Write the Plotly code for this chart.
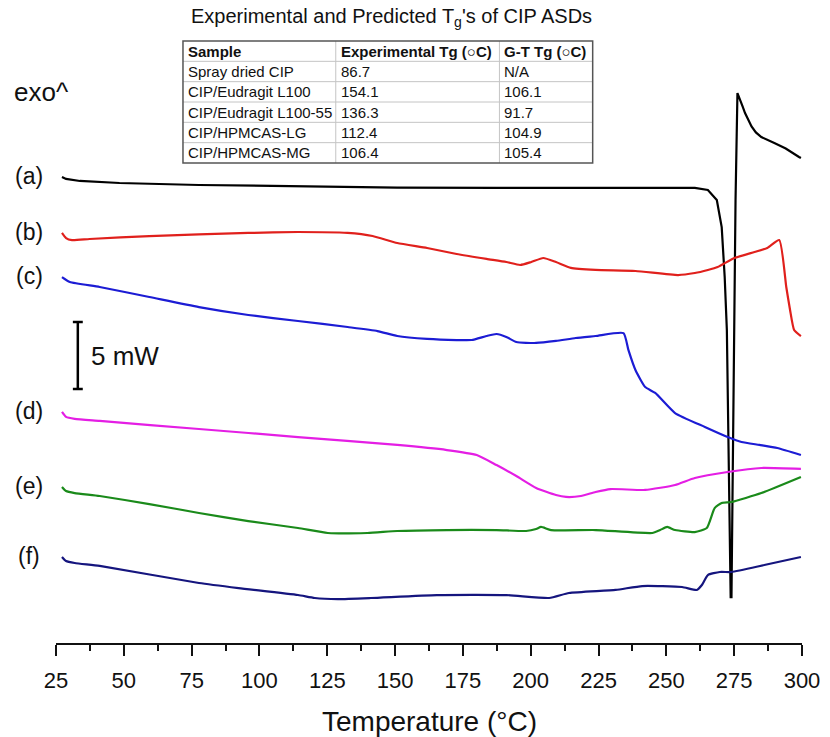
import plotly.graph_objects as go

# ---------------- data (temperature in °C, offset heat flow in mW) ----------------
a_T = [27.2, 28.7, 33.8, 48.4, 77.7, 114.2, 150.8, 187.4, 223.9, 260.5, 265.3, 268.6, 270.4, 271.5,
       272.3, 273.0, 273.7, 274.0, 274.6, 275.5, 276.2, 277.0, 278.1, 279.0, 280.2, 281.4, 283.0,
       285.0, 289.8, 294.0, 298.9, 299.6]
a_y = [34.78, 34.63, 34.48, 34.33, 34.18, 34.07, 33.99, 33.96, 33.96, 33.96, 33.81, 33.06, 31.04, 27.31,
       23.36, 14.40, 3.43, 3.43, 15.90, 33.06, 41.04, 40.55, 40.05, 39.55, 39.00, 38.55, 38.10,
       37.76, 37.31, 36.90, 36.27, 36.19]

b_T = [27.2, 28.7, 30.9, 37.4, 59.4, 95.9, 114.2, 132.5, 141.7, 150.8, 161.8, 172.7, 183.7, 191.0,
       196.1, 200.2, 204.6, 209.3, 214.8, 223.9, 238.6, 254.3, 260.5, 265.3, 268.9, 275.1, 282.5,
       287.2, 291.6, 294.2, 295.6, 297.1, 299.6]
b_y = [30.60, 30.22, 30.07, 30.15, 30.37, 30.60, 30.67, 30.60, 30.37, 29.85, 29.48, 29.03, 28.66, 28.43,
       28.21, 28.43, 28.73, 28.43, 27.99, 27.84, 27.76, 27.46, 27.61, 27.84, 28.06, 28.73, 29.18,
       29.48, 30.07, 26.57, 24.85, 23.36, 22.91]

c_T = [27.2, 30.1, 41.1, 59.4, 77.7, 95.9, 114.2, 132.5, 143.5, 150.8, 161.8, 172.7, 178.2, 183.7,
       187.4, 191.0, 194.7, 202.0, 209.3, 216.6, 223.9, 234.2, 236.0, 238.6, 242.2, 245.9, 253.2,
       264.2, 272.6, 277.7, 284.3, 290.9, 299.6]
c_y = [27.31, 26.94, 26.57, 25.82, 25.07, 24.48, 24.03, 23.58, 23.28, 22.91, 22.69, 22.61, 22.61, 22.91,
       23.06, 22.84, 22.46, 22.39, 22.54, 22.76, 22.91, 23.13, 21.87, 20.37, 19.10, 18.66, 17.16,
       16.12, 15.37, 15.00, 14.78, 14.55, 14.03]

d_T = [27.2, 28.7, 31.9, 41.1, 77.7, 114.2, 150.8, 169.1, 180.1, 187.4, 194.7, 202.0, 209.3, 213.0,
       218.5, 223.9, 229.4, 242.2, 253.2, 260.5, 272.6, 285.0, 299.6]
d_y = [17.24, 16.87, 16.72, 16.57, 15.97, 15.37, 14.78, 14.40, 14.03, 13.28, 12.46, 11.57, 11.04, 10.90,
       10.97, 11.27, 11.49, 11.42, 11.79, 12.31, 12.76, 13.06, 12.99]

e_T = [27.2, 28.7, 31.9, 41.1, 59.4, 77.7, 95.9, 114.2, 125.2, 139.8, 150.8, 169.1, 187.4, 198.3,
       202.0, 203.8, 207.5, 223.9, 244.8, 247.7, 250.3, 253.2, 260.5, 264.9, 267.8, 270.4, 274.0,
       285.0, 299.6]
e_y = [11.64, 11.34, 11.19, 10.97, 10.37, 9.70, 9.10, 8.58, 8.21, 8.21, 8.36, 8.43, 8.43, 8.36,
       8.51, 8.66, 8.43, 8.43, 8.21, 8.43, 8.66, 8.43, 8.28, 8.58, 10.07, 10.45, 10.52,
       11.19, 12.39]

f_T = [27.2, 28.7, 31.9, 41.1, 77.7, 92.3, 114.2, 120.4, 128.9, 141.0, 165.4, 191.0, 206.8, 214.1,
       231.3, 241.1, 255.8, 261.2, 263.1, 265.3, 269.7, 274.0, 286.1, 299.6]
f_y = [6.42, 6.12, 5.97, 5.75, 4.48, 4.10, 3.58, 3.36, 3.28, 3.36, 3.58, 3.58, 3.36, 3.73,
       3.96, 4.25, 4.18, 3.96, 4.33, 5.07, 5.30, 5.30, 5.82, 6.42]

curve_labels = ["(a)", "(b)", "(c)", "(d)", "(e)", "(f)"]
x_ticks = [25, 50, 75, 100, 125, 150, 175, 200, 225, 250, 275, 300]

scale_bar_mw = 5

table_title = "Experimental and Predicted T<sub>g</sub>'s of CIP ASDs"
table_header = ["Sample", "Experimental Tg (\u25cbC)", "G-T Tg (\u25cbC)"]
table_samples = ["Spray dried CIP", "CIP/Eudragit L100", "CIP/Eudragit L100-55", "CIP/HPMCAS-LG", "CIP/HPMCAS-MG"]
table_exp_tg = ["86.7", "154.1", "136.3", "112.4", "106.4"]
table_gt_tg = ["N/A", "106.1", "91.7", "104.9", "105.4"]

# ---------------- layout geometry ----------------
W, H = 830, 737
PL, PR, PT, PB = 56, 808, 10, 643
PX_PER_MW = 13.4
Y_MAX = (PB - PT) / PX_PER_MW
FONT = "Liberation Sans, Arial, sans-serif"


def px_x(px):
    return (px - PL) / (PR - PL)


def px_y(py):
    return (PB - py) / (PB - PT)


def px_to_T(px):
    return 25 + (px - PL) * 275 / (PR - PL)


series = [
    (a_T, a_y, "#000000", "linear"),
    (b_T, b_y, "#e0201c", "spline"),
    (c_T, c_y, "#1c1cd4", "spline"),
    (d_T, d_y, "#e41ee4", "spline"),
    (e_T, e_y, "#1a8a1a", "spline"),
    (f_T, f_y, "#15157e", "spline"),
]

fig = go.Figure()
for (T, y, col, shp), lab in zip(series, curve_labels):
    fig.add_trace(go.Scatter(x=T, y=y, mode="lines", name=lab,
                             line=dict(color=col, width=2.2, shape=shp, smoothing=0.5),
                             showlegend=False, hoverinfo="skip"))

# scale bar (5 mW)
sb_T = px_to_T(78)
sb_half = px_to_T(83) - sb_T
sb_bottom = (PB - 389) / PX_PER_MW
sb_top = sb_bottom + scale_bar_mw
fig.add_trace(go.Scatter(
    x=[sb_T, sb_T, None, sb_T - sb_half, sb_T + sb_half, None, sb_T - sb_half, sb_T + sb_half],
    y=[sb_bottom, sb_top, None, sb_bottom, sb_bottom, None, sb_top, sb_top],
    mode="lines", line=dict(color="#000000", width=2.5), showlegend=False, hoverinfo="skip"))

annotations = []
# curve labels
for (T, y, col, shp), lab in zip(series, curve_labels):
    annotations.append(dict(x=px_x(29), xref="paper", y=y[0] + 0.1, yref="y", text=lab,
                            showarrow=False, xanchor="center", yanchor="middle",
                            font=dict(family=FONT, size=23, color="#111111")))

annotations.append(dict(x=px_x(12), xref="paper", y=px_y(92), yref="paper", text="exo^",
                        showarrow=False, xanchor="left", yanchor="middle",
                        font=dict(family=FONT, size=26, color="#111111")))
annotations.append(dict(x=px_to_T(89), xref="x", y=(sb_bottom + sb_top) / 2, yref="y",
                        text=f"{scale_bar_mw} mW", showarrow=False, xanchor="left", yanchor="middle",
                        font=dict(family=FONT, size=26, color="#111111")))
annotations.append(dict(x=0.5, xref="paper", y=px_y(721), yref="paper", text="Temperature (\u00b0C)",
                        showarrow=False, xanchor="center", yanchor="middle",
                        font=dict(family=FONT, size=28, color="#111111")))

# table
t_left, t_right, t_top, t_bot = 184, 597, 41, 163
col_x = [t_left, 338, 503, t_right]
n_rows = 1 + len(table_samples)
row_h = (t_bot - t_top) / n_rows
rows = [table_header] + [list(r) for r in zip(table_samples, table_exp_tg, table_gt_tg)]

annotations.append(dict(x=px_x(394), xref="paper", y=px_y(18), yref="paper", text=table_title,
                        showarrow=False, xanchor="center", yanchor="middle",
                        font=dict(family=FONT, size=20, color="#111111")))

shapes = []
for i in range(1, n_rows):
    yy = px_y(t_top + i * row_h)
    shapes.append(dict(type="line", xref="paper", yref="paper", x0=px_x(t_left), x1=px_x(t_right),
                       y0=yy, y1=yy, line=dict(color="#c4c4c4", width=1)))
for cx in col_x[1:-1]:
    shapes.append(dict(type="line", xref="paper", yref="paper", x0=px_x(cx), x1=px_x(cx),
                       y0=px_y(t_top), y1=px_y(t_bot), line=dict(color="#c4c4c4", width=1)))
shapes.append(dict(type="rect", xref="paper", yref="paper", x0=px_x(t_left), x1=px_x(t_right),
                   y0=px_y(t_bot), y1=px_y(t_top), line=dict(color="#555555", width=1.5)))

for r, row in enumerate(rows):
    cy = t_top + (r + 0.5) * row_h
    for c, txt in enumerate(row):
        annotations.append(dict(x=px_x(col_x[c] + 3), xref="paper", y=px_y(cy), yref="paper",
                                text=f"<b>{txt}</b>" if r == 0 else txt, showarrow=False,
                                xanchor="left", yanchor="middle",
                                font=dict(family=FONT, size=15, color="#111111")))

fig.update_layout(
    width=W, height=H,
    margin=dict(l=PL, r=W - PR, t=PT, b=H - PB, pad=0),
    paper_bgcolor="white", plot_bgcolor="white",
    xaxis=dict(range=[25, 300], tickvals=x_ticks, ticks="outside", ticklen=11, tickwidth=2,
               tickcolor="#111111", showline=True, linecolor="#111111", linewidth=2,
               showgrid=False, zeroline=False, ticklabelstandoff=6,
               tickfont=dict(family=FONT, size=22, color="#111111"),
               minor=dict(dtick=12.5, tick0=25, ticks="outside", ticklen=6, tickwidth=2,
                          tickcolor="#111111", showgrid=False)),
    yaxis=dict(range=[0, Y_MAX], visible=False),
    annotations=annotations, shapes=shapes,
)

fig.write_html("out.html", config={"displayModeBar": False})
